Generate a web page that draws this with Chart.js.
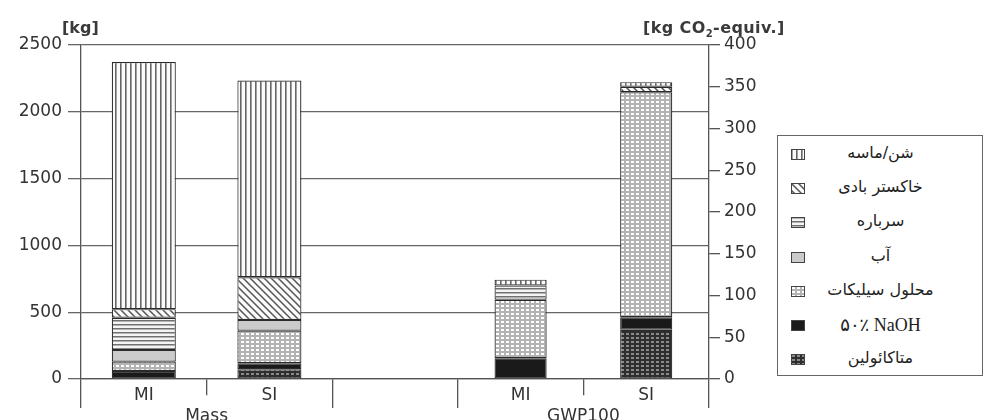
<!DOCTYPE html>
<html>
<head>
<meta charset="utf-8">
<script src="https://cdn.jsdelivr.net/npm/chart.js@4.4.1/dist/chart.umd.min.js"></script>
<style>
  body { margin: 0; background: #fff; }
  #wrap { position: relative; width: 987px; height: 420px; }
  .unit { position: absolute; font: bold 15px 'DejaVu Sans'; color: #3a3a3a; white-space: nowrap; }
  #legend { position: absolute; left: 777px; top: 135px; width: 206px; height: 241px;
            box-sizing: border-box; border: 1px solid #666; background: #fff; padding-top: 1px; }
  .row { position: relative; height: 34.2px; }
  .row canvas { position: absolute; left: 13px; top: 12px; }
  .row span { position: absolute; left: 35px; width: 135px; top: 6px; text-align: center;
              font: 16px 'DejaVu Sans'; color: #222; white-space: nowrap; }
</style>
</head>
<body>
<div id="wrap">
  <canvas id="chart"></canvas>
  <div class="unit" style="left:62px;top:18px;font-size:16px;">[kg]</div>
  <div class="unit" style="left:643px;top:18px;font-size:16px;letter-spacing:0.4px;">[kg CO<sub style="font-size:10px;">2</sub>-equiv.]</div>
  <div id="legend"></div>
</div>
<script>
// ----- Data -----
const categories = ['MI', 'SI', '', 'MI', 'SI'];
const groupLabels = ['Mass', 'GWP100'];
// legend order (top to bottom)
const materials = ['شن/ماسه', 'خاکستر بادی', 'سرباره', 'آب', 'محلول سیلیکات', '۵۰٪ NaOH', 'متاکائولین'];

// mass [kg] : [MI, SI]
const massGravel = [1850, 1472];
const massFlyAsh = [65, 320];
const massSlag = [240, null];
const massWater = [88, 80];
const massSilicate = [70, 244];
const massNaOH = [60, 45];
const massMetakaolin = [null, 73];

// GWP100 [kg CO2-equiv.] : [MI, SI]
const gwpGravel = [7, 5.5];
const gwpFlyAsh = [null, 6.5];
const gwpSlag = [17, null];
const gwpWater = [null, null];
const gwpSilicate = [70, 269.5];
const gwpNaOH = [25, 15];
const gwpMetakaolin = [null, 59];

// ----- Patterns -----
const canvas = document.getElementById('chart');
const ctx = canvas.getContext('2d');

function makeTile(w, h, bg, draw){
    const c = document.createElement('canvas');
    c.width = w; c.height = h;
    const g = c.getContext('2d');
    g.fillStyle = bg; g.fillRect(0, 0, w, h);
    if(draw) draw(g);
    return c;
}

const tiles = [
    makeTile(5, 5, '#fbfbfb', g => { g.fillStyle = '#666'; g.fillRect(0, 0, 1.6, 5); }),
    makeTile(7, 7, '#fafafa', g => {
        g.strokeStyle = '#555'; g.lineWidth = 1.5;
        g.beginPath(); g.moveTo(-1, -1); g.lineTo(8, 8); g.moveTo(-8, -1); g.lineTo(1, 8); g.moveTo(6, -1); g.lineTo(15, 8); g.stroke();
    }),
    makeTile(4, 4, '#f4f4f4', g => { g.fillStyle = '#707070'; g.fillRect(0, 0, 4, 1.5); }),
    makeTile(4, 4, '#cbcbcb'),
    makeTile(5, 4, '#b3b3b3', g => { g.fillStyle = '#fff'; g.fillRect(1, 1, 3, 2); }),
    makeTile(4, 4, '#1a1a1a'),
    makeTile(5, 4, '#2e2e2e', g => { g.fillStyle = '#8a8a8a'; g.fillRect(1, 1, 3, 2); })
];
const fills = tiles.map(t => ctx.createPattern(t, 'repeat'));

// ----- Datasets (bottom to top) -----
const massSeries = [massGravel, massFlyAsh, massSlag, massWater, massSilicate, massNaOH, massMetakaolin];
const gwpSeries = [gwpGravel, gwpFlyAsh, gwpSlag, gwpWater, gwpSilicate, gwpNaOH, gwpMetakaolin];

const datasets = [];
for(let i = materials.length - 1; i >= 0; i--){
    datasets.push({
        label: materials[i], data: [massSeries[i][0], massSeries[i][1], null, null, null],
        yAxisID: 'y', backgroundColor: fills[i], borderColor: '#2a2a2a',
        borderWidth: 1.2, borderSkipped: false, barPercentage: 0.51, categoryPercentage: 1
    });
}
for(let i = materials.length - 1; i >= 0; i--){
    datasets.push({
        label: materials[i], data: [null, null, null, gwpSeries[i][0], gwpSeries[i][1]],
        yAxisID: 'y2', backgroundColor: fills[i], borderColor: '#2a2a2a',
        borderWidth: 1.2, borderSkipped: false, barPercentage: 0.415, categoryPercentage: 1
    });
}

Chart.defaults.font.family = 'DejaVu Sans';
Chart.defaults.font.size = 17;
Chart.defaults.color = '#333';

new Chart(ctx, {
    type: 'bar',
    data: { labels: categories, datasets },
    options: {
        responsive: true, maintainAspectRatio: false, animation: false,
        layout: { padding: { top: 45, left: 0, right: 0, bottom: 0 } },
        plugins: { legend: { display: false }, tooltip: { enabled: false } },
        scales: {
            x: {
                stacked: true, offset: true, weight: 0,
                grid: { offset: true, drawOnChartArea: false, tickLength: 29, color: '#555', lineWidth: 1.3,
                        tickBorderDash: c => (c.index === 1 || c.index === 4) ? [16, 40] : [] },
                border: { display: true, color: '#555', width: 1.3 },
                ticks: { padding: -23, maxRotation: 0, autoSkip: false },
                afterFit: s => { s.height = 24; }
            },
            x2: {
                type: 'linear', position: 'bottom', weight: 1, min: -0.5, max: 4.5, offset: false,
                afterBuildTicks: s => { s.ticks = [0.5, 3.5].map(v => ({ value: v })); },
                grid: { display: false },
                border: { display: false },
                ticks: { padding: -5, autoSkip: false, maxRotation: 0,
                         callback: v => v === 0.5 ? groupLabels[0] : (v === 3.5 ? groupLabels[1] : '') },
                afterFit: s => { s.height = 17; }
            },
            y: {
                position: 'left', stacked: true, min: 0, max: 2500,
                ticks: { stepSize: 500, padding: 6, format: { useGrouping: false } },
                grid: { color: '#666', lineWidth: 1.3, tickLength: 13 },
                border: { display: true, color: '#555', width: 1.3 },
                afterFit: s => { s.width = 81; }
            },
            y2: {
                position: 'right', stacked: true, min: 0, max: 400,
                ticks: { stepSize: 50, padding: 4 },
                grid: { drawOnChartArea: false, color: '#555', lineWidth: 1.3, tickLength: 11 },
                border: { display: true, color: '#555', width: 1.3 },
                afterFit: s => { s.width = 278; }
            }
        }
    }
});

// ----- Legend -----
const legend = document.getElementById('legend');
materials.forEach((m, i) => {
    const row = document.createElement('div');
    row.className = 'row';
    const sw = document.createElement('canvas');
    sw.width = 14; sw.height = 11;
    const g = sw.getContext('2d');
    g.fillStyle = g.createPattern(tiles[i], 'repeat');
    g.fillRect(0, 0, 14, 11);
    g.strokeStyle = '#444'; g.lineWidth = 1;
    g.strokeRect(0.5, 0.5, 13, 10);
    const t = document.createElement('span');
    t.textContent = m;
    if(m.includes('NaOH')) t.style.font = "18px 'Liberation Serif', 'DejaVu Sans'";
    row.appendChild(sw);
    row.appendChild(t);
    legend.appendChild(row);
});
</script>
</body>
</html>
